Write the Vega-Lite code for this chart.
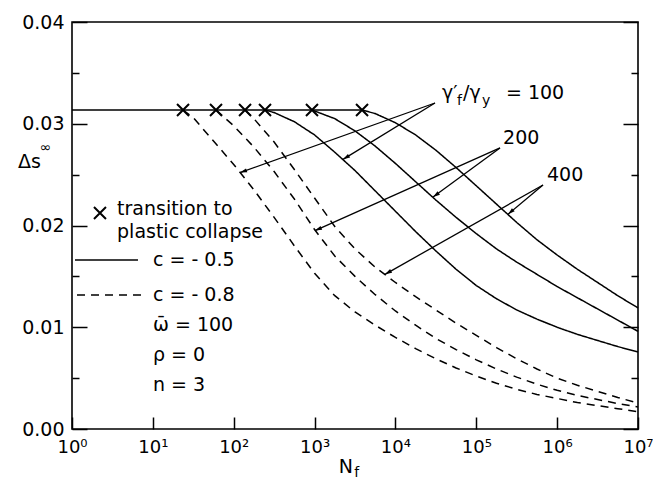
{
"$schema":"https://vega.github.io/schema/vega-lite/v6.json",
"width":566,"height":407,"autosize":"none",
"padding":{"left":72,"top":22,"right":15,"bottom":52},
"background":"white",
"config":{"view":{"stroke":"black","strokeWidth":1.6},"font":"DejaVu Sans"},
"datasets":{
"curves":[
{"s":"P","k":"solid","x":0,"y":0.03135},{"s":"P","k":"solid","x":3.587,"y":0.03135},
{"s":"D1","k":"dashed","x":1.373,"y":0.03135},{"s":"D1","k":"dashed","x":1.5,"y":0.0306},{"s":"D1","k":"dashed","x":1.75,"y":0.0283},{"s":"D1","k":"dashed","x":2.0,"y":0.026},{"s":"D1","k":"dashed","x":2.25,"y":0.0235},{"s":"D1","k":"dashed","x":2.5,"y":0.0208},{"s":"D1","k":"dashed","x":2.75,"y":0.018},{"s":"D1","k":"dashed","x":3.0,"y":0.0153},{"s":"D1","k":"dashed","x":3.25,"y":0.0131},{"s":"D1","k":"dashed","x":3.5,"y":0.0115},{"s":"D1","k":"dashed","x":3.75,"y":0.0102},{"s":"D1","k":"dashed","x":4.0,"y":0.009},{"s":"D1","k":"dashed","x":4.25,"y":0.0079},{"s":"D1","k":"dashed","x":4.5,"y":0.0069},{"s":"D1","k":"dashed","x":4.75,"y":0.006},{"s":"D1","k":"dashed","x":5.0,"y":0.0052},{"s":"D1","k":"dashed","x":5.25,"y":0.0045},{"s":"D1","k":"dashed","x":5.5,"y":0.0039},{"s":"D1","k":"dashed","x":5.75,"y":0.0034},{"s":"D1","k":"dashed","x":6.0,"y":0.003},{"s":"D1","k":"dashed","x":6.25,"y":0.0026},{"s":"D1","k":"dashed","x":6.5,"y":0.0023},{"s":"D1","k":"dashed","x":6.75,"y":0.002},{"s":"D1","k":"dashed","x":7.0,"y":0.0017},
{"s":"D2","k":"dashed","x":1.781,"y":0.03135},{"s":"D2","k":"dashed","x":2.0,"y":0.0298},{"s":"D2","k":"dashed","x":2.25,"y":0.0277},{"s":"D2","k":"dashed","x":2.5,"y":0.0253},{"s":"D2","k":"dashed","x":2.75,"y":0.0226},{"s":"D2","k":"dashed","x":3.0,"y":0.0196},{"s":"D2","k":"dashed","x":3.25,"y":0.017},{"s":"D2","k":"dashed","x":3.5,"y":0.015},{"s":"D2","k":"dashed","x":3.75,"y":0.0132},{"s":"D2","k":"dashed","x":4.0,"y":0.0116},{"s":"D2","k":"dashed","x":4.25,"y":0.0102},{"s":"D2","k":"dashed","x":4.5,"y":0.0089},{"s":"D2","k":"dashed","x":4.75,"y":0.0078},{"s":"D2","k":"dashed","x":5.0,"y":0.0068},{"s":"D2","k":"dashed","x":5.25,"y":0.0059},{"s":"D2","k":"dashed","x":5.5,"y":0.0051},{"s":"D2","k":"dashed","x":5.75,"y":0.0044},{"s":"D2","k":"dashed","x":6.0,"y":0.0038},{"s":"D2","k":"dashed","x":6.25,"y":0.0033},{"s":"D2","k":"dashed","x":6.5,"y":0.0029},{"s":"D2","k":"dashed","x":6.75,"y":0.0025},{"s":"D2","k":"dashed","x":7.0,"y":0.00216},
{"s":"D3","k":"dashed","x":2.14,"y":0.03135},{"s":"D3","k":"dashed","x":2.25,"y":0.0305},{"s":"D3","k":"dashed","x":2.5,"y":0.0282},{"s":"D3","k":"dashed","x":2.75,"y":0.0255},{"s":"D3","k":"dashed","x":3.0,"y":0.0227},{"s":"D3","k":"dashed","x":3.25,"y":0.0199},{"s":"D3","k":"dashed","x":3.5,"y":0.0177},{"s":"D3","k":"dashed","x":3.75,"y":0.0159},{"s":"D3","k":"dashed","x":4.0,"y":0.0144},{"s":"D3","k":"dashed","x":4.25,"y":0.013},{"s":"D3","k":"dashed","x":4.5,"y":0.0117},{"s":"D3","k":"dashed","x":4.75,"y":0.0104},{"s":"D3","k":"dashed","x":5.0,"y":0.0092},{"s":"D3","k":"dashed","x":5.25,"y":0.008},{"s":"D3","k":"dashed","x":5.5,"y":0.0069},{"s":"D3","k":"dashed","x":5.75,"y":0.0059},{"s":"D3","k":"dashed","x":6.0,"y":0.005},{"s":"D3","k":"dashed","x":6.25,"y":0.0043},{"s":"D3","k":"dashed","x":6.5,"y":0.0037},{"s":"D3","k":"dashed","x":6.75,"y":0.0031},{"s":"D3","k":"dashed","x":7.0,"y":0.00255},
{"s":"S1","k":"solid","x":2.387,"y":0.03135},{"s":"S1","k":"solid","x":2.5,"y":0.0311},{"s":"S1","k":"solid","x":2.75,"y":0.0302},{"s":"S1","k":"solid","x":3.0,"y":0.0289},{"s":"S1","k":"solid","x":3.25,"y":0.0272},{"s":"S1","k":"solid","x":3.5,"y":0.0254},{"s":"S1","k":"solid","x":3.75,"y":0.0234},{"s":"S1","k":"solid","x":4.0,"y":0.0214},{"s":"S1","k":"solid","x":4.25,"y":0.0194},{"s":"S1","k":"solid","x":4.5,"y":0.0175},{"s":"S1","k":"solid","x":4.75,"y":0.0157},{"s":"S1","k":"solid","x":5.0,"y":0.0141},{"s":"S1","k":"solid","x":5.25,"y":0.0128},{"s":"S1","k":"solid","x":5.5,"y":0.0117},{"s":"S1","k":"solid","x":5.75,"y":0.0108},{"s":"S1","k":"solid","x":6.0,"y":0.01},{"s":"S1","k":"solid","x":6.25,"y":0.0093},{"s":"S1","k":"solid","x":6.5,"y":0.0087},{"s":"S1","k":"solid","x":6.75,"y":0.0081},{"s":"S1","k":"solid","x":7.0,"y":0.00757},
{"s":"S2","k":"solid","x":2.968,"y":0.03135},{"s":"S2","k":"solid","x":3.25,"y":0.0305},{"s":"S2","k":"solid","x":3.5,"y":0.0293},{"s":"S2","k":"solid","x":3.75,"y":0.0278},{"s":"S2","k":"solid","x":4.0,"y":0.0261},{"s":"S2","k":"solid","x":4.25,"y":0.0243},{"s":"S2","k":"solid","x":4.5,"y":0.0225},{"s":"S2","k":"solid","x":4.75,"y":0.0208},{"s":"S2","k":"solid","x":5.0,"y":0.0192},{"s":"S2","k":"solid","x":5.25,"y":0.0177},{"s":"S2","k":"solid","x":5.5,"y":0.0164},{"s":"S2","k":"solid","x":5.75,"y":0.0152},{"s":"S2","k":"solid","x":6.0,"y":0.014},{"s":"S2","k":"solid","x":6.25,"y":0.0129},{"s":"S2","k":"solid","x":6.5,"y":0.0118},{"s":"S2","k":"solid","x":6.75,"y":0.0107},{"s":"S2","k":"solid","x":7.0,"y":0.0096},
{"s":"S3","k":"solid","x":3.587,"y":0.03135},{"s":"S3","k":"solid","x":3.75,"y":0.031},{"s":"S3","k":"solid","x":4.0,"y":0.0301},{"s":"S3","k":"solid","x":4.25,"y":0.0289},{"s":"S3","k":"solid","x":4.5,"y":0.0274},{"s":"S3","k":"solid","x":4.75,"y":0.0257},{"s":"S3","k":"solid","x":5.0,"y":0.0239},{"s":"S3","k":"solid","x":5.25,"y":0.0221},{"s":"S3","k":"solid","x":5.5,"y":0.0203},{"s":"S3","k":"solid","x":5.75,"y":0.0186},{"s":"S3","k":"solid","x":6.0,"y":0.0171},{"s":"S3","k":"solid","x":6.25,"y":0.0157},{"s":"S3","k":"solid","x":6.5,"y":0.0144},{"s":"S3","k":"solid","x":6.75,"y":0.0131},{"s":"S3","k":"solid","x":7.0,"y":0.0119}
],
"markers":[{"x":1.373,"y":0.03135},{"x":1.781,"y":0.03135},{"x":2.14,"y":0.03135},{"x":2.387,"y":0.03135},{"x":2.968,"y":0.03135},{"x":3.587,"y":0.03135},{"x":0.346,"y":0.02123}],
"arrows":[
{"id":"a1","x":2.078,"y":0.0252,"x2":4.489,"y2":0.03204},
{"id":"a2","x":3.352,"y":0.0265,"x2":4.489,"y2":0.03204},
{"id":"a3","x":4.465,"y":0.0228,"x2":5.293,"y2":0.02762},
{"id":"a4","x":3.005,"y":0.0195,"x2":5.293,"y2":0.02762},
{"id":"a5","x":5.392,"y":0.0211,"x2":5.825,"y2":0.02398},
{"id":"a6","x":3.871,"y":0.0152,"x2":5.825,"y2":0.02398}
],
"legendLines":[{"k":"solid","x":0.037,"x2":0.816,"y":0.01661},{"k":"dashed","x":0.062,"x2":0.853,"y":0.01317}],
"texts":[
{"t":"transition to","x":0.557,"y":0.02162},
{"t":"plastic collapse","x":0.557,"y":0.01936},
{"t":"c = - 0.5","x":1.002,"y":0.01661},
{"t":"c = - 0.8","x":1.002,"y":0.01317},
{"t":"ω̄ = 100","x":1.002,"y":0.01022},
{"t":"ρ =  0","x":1.002,"y":0.00727},
{"t":"n =  3","x":1.002,"y":0.00432},
{"t":"γ′","x":4.576,"y":0.03302},
{"t":"/γ","x":4.836,"y":0.03302},
{"t":"= 100","x":5.367,"y":0.03302},
{"t":"200","x":5.331,"y":0.0286},
{"t":"400","x":5.875,"y":0.02496},
{"t":"N","x":3.3,"y":-0.00373},
{"t":"Δs","x":-0.668,"y":0.02624}
],
"subs":[
{"t":"f","x":4.761,"y":0.03228},
{"t":"y","x":5.071,"y":0.03228},
{"t":"∞","x":-0.4,"y":0.0276},
{"t":"f","x":3.49,"y":-0.00432}
]
},
"layer":[
{"data":{"name":"curves"},"mark":{"type":"line","color":"black","strokeWidth":1.5},
 "encoding":{
  "x":{"field":"x","type":"quantitative","scale":{"domain":[0,7],"nice":false,"zero":false},
   "axis":{"values":[0,1,2,3,4,5,6,7],"labelExpr":"'10' + ['⁰','¹','²','³','⁴','⁵','⁶','⁷'][round(datum.value)]","tickSize":-12,"tickWidth":1.5,"tickColor":"black","domain":false,"grid":false,"title":null,"labelFontSize":18,"labelColor":"black","labelPadding":21,"labelFlush":false,"labelOverlap":false}},
  "y":{"field":"y","type":"quantitative","scale":{"domain":[0,0.04],"nice":false,"zero":false},
   "axis":{"orient":"left","values":[0,0.005,0.01,0.015,0.02,0.025,0.03,0.035,0.04],"labelExpr":"round(datum.value*200)%2===0 ? format(datum.value,'.2f') : ''","tickSize":{"condition":{"test":"round(datum.value*200)%2===0","value":-15},"value":-7},"tickWidth":1.5,"tickColor":"black","domain":false,"grid":false,"title":null,"labelFontSize":19,"labelColor":"black","labelPadding":23,"labelOverlap":false}},
  "detail":{"field":"s"},
  "strokeDash":{"field":"k","type":"nominal","scale":{"domain":["solid","dashed"],"range":[[1,0],[8,6]]},"legend":null}
 }},
{"data":{"name":"markers"},"mark":{"type":"point","shape":"M-1,-1L1,1M1,-1L-1,1","filled":false,"color":"black","strokeWidth":2,"size":144,"opacity":1},
 "encoding":{
  "x":{"field":"x","type":"quantitative","scale":{"domain":[0,7],"nice":false,"zero":false},"axis":null},
  "y":{"field":"y","type":"quantitative","scale":{"domain":[0,0.04],"nice":false,"zero":false},
   "axis":{"orient":"right","values":[0,0.005,0.01,0.015,0.02,0.025,0.03,0.035,0.04],"labels":false,"tickSize":{"condition":{"test":"round(datum.value*200)%2===0","value":-15},"value":-7},"tickWidth":1.5,"tickColor":"black","domain":false,"grid":false,"title":null}}
 }},
{"data":{"name":"arrows"},"mark":{"type":"rule","color":"black","strokeWidth":1.3},
 "encoding":{
  "x":{"field":"x","type":"quantitative","scale":{"domain":[0,7],"nice":false,"zero":false},"axis":null},
  "y":{"field":"y","type":"quantitative","scale":{"domain":[0,0.04],"nice":false,"zero":false},"axis":null},
  "x2":{"field":"x2"},"y2":{"field":"y2"}
 }},
{"data":{"name":"arrows"},"transform":[{"filter":{"field":"id","equal":"a1"}}],"mark":{"type":"point","shape":"M0,0L-1,-0.3L-1,0.3Z","filled":true,"color":"black","size":196,"opacity":1,"angle":161.6},
 "encoding":{"x":{"field":"x","type":"quantitative","scale":{"domain":[0,7],"nice":false,"zero":false},"axis":null},"y":{"field":"y","type":"quantitative","scale":{"domain":[0,0.04],"nice":false,"zero":false},"axis":null}}},
{"data":{"name":"arrows"},"transform":[{"filter":{"field":"id","equal":"a2"}}],"mark":{"type":"point","shape":"M0,0L-1,-0.3L-1,0.3Z","filled":true,"color":"black","size":196,"opacity":1,"angle":149.1},
 "encoding":{"x":{"field":"x","type":"quantitative","scale":{"domain":[0,7],"nice":false,"zero":false},"axis":null},"y":{"field":"y","type":"quantitative","scale":{"domain":[0,0.04],"nice":false,"zero":false},"axis":null}}},
{"data":{"name":"arrows"},"transform":[{"filter":{"field":"id","equal":"a3"}}],"mark":{"type":"point","shape":"M0,0L-1,-0.3L-1,0.3Z","filled":true,"color":"black","size":196,"opacity":1,"angle":145},
 "encoding":{"x":{"field":"x","type":"quantitative","scale":{"domain":[0,7],"nice":false,"zero":false},"axis":null},"y":{"field":"y","type":"quantitative","scale":{"domain":[0,0.04],"nice":false,"zero":false},"axis":null}}},
{"data":{"name":"arrows"},"transform":[{"filter":{"field":"id","equal":"a4"}}],"mark":{"type":"point","shape":"M0,0L-1,-0.3L-1,0.3Z","filled":true,"color":"black","size":196,"opacity":1,"angle":156.6},
 "encoding":{"x":{"field":"x","type":"quantitative","scale":{"domain":[0,7],"nice":false,"zero":false},"axis":null},"y":{"field":"y","type":"quantitative","scale":{"domain":[0,0.04],"nice":false,"zero":false},"axis":null}}},
{"data":{"name":"arrows"},"transform":[{"filter":{"field":"id","equal":"a5"}}],"mark":{"type":"point","shape":"M0,0L-1,-0.3L-1,0.3Z","filled":true,"color":"black","size":196,"opacity":1,"angle":139.4},
 "encoding":{"x":{"field":"x","type":"quantitative","scale":{"domain":[0,7],"nice":false,"zero":false},"axis":null},"y":{"field":"y","type":"quantitative","scale":{"domain":[0,0.04],"nice":false,"zero":false},"axis":null}}},
{"data":{"name":"arrows"},"transform":[{"filter":{"field":"id","equal":"a6"}}],"mark":{"type":"point","shape":"M0,0L-1,-0.3L-1,0.3Z","filled":true,"color":"black","size":196,"opacity":1,"angle":150.9},
 "encoding":{"x":{"field":"x","type":"quantitative","scale":{"domain":[0,7],"nice":false,"zero":false},"axis":null},"y":{"field":"y","type":"quantitative","scale":{"domain":[0,0.04],"nice":false,"zero":false},"axis":null}}},
{"data":{"name":"legendLines"},"mark":{"type":"rule","color":"black","strokeWidth":1.5},
 "encoding":{
  "x":{"field":"x","type":"quantitative","scale":{"domain":[0,7],"nice":false,"zero":false},"axis":null},
  "x2":{"field":"x2"},
  "y":{"field":"y","type":"quantitative","scale":{"domain":[0,0.04],"nice":false,"zero":false},"axis":null},
  "strokeDash":{"field":"k","type":"nominal","scale":{"domain":["solid","dashed"],"range":[[1,0],[8,6]]},"legend":null}
 }},
{"data":{"name":"texts"},"mark":{"type":"text","align":"left","baseline":"middle","fontSize":19,"color":"black","font":"DejaVu Sans"},
 "encoding":{
  "x":{"field":"x","type":"quantitative","scale":{"domain":[0,7],"nice":false,"zero":false},"axis":null},
  "y":{"field":"y","type":"quantitative","scale":{"domain":[0,0.04],"nice":false,"zero":false},"axis":null},
  "text":{"field":"t"}
 }},
{"data":{"name":"subs"},"mark":{"type":"text","align":"left","baseline":"middle","fontSize":14,"color":"black","font":"DejaVu Sans"},
 "encoding":{
  "x":{"field":"x","type":"quantitative","scale":{"domain":[0,7],"nice":false,"zero":false},"axis":null},
  "y":{"field":"y","type":"quantitative","scale":{"domain":[0,0.04],"nice":false,"zero":false},"axis":null},
  "text":{"field":"t"}
 }}
],
"resolve":{"axis":{"x":"independent","y":"independent"}}
}
